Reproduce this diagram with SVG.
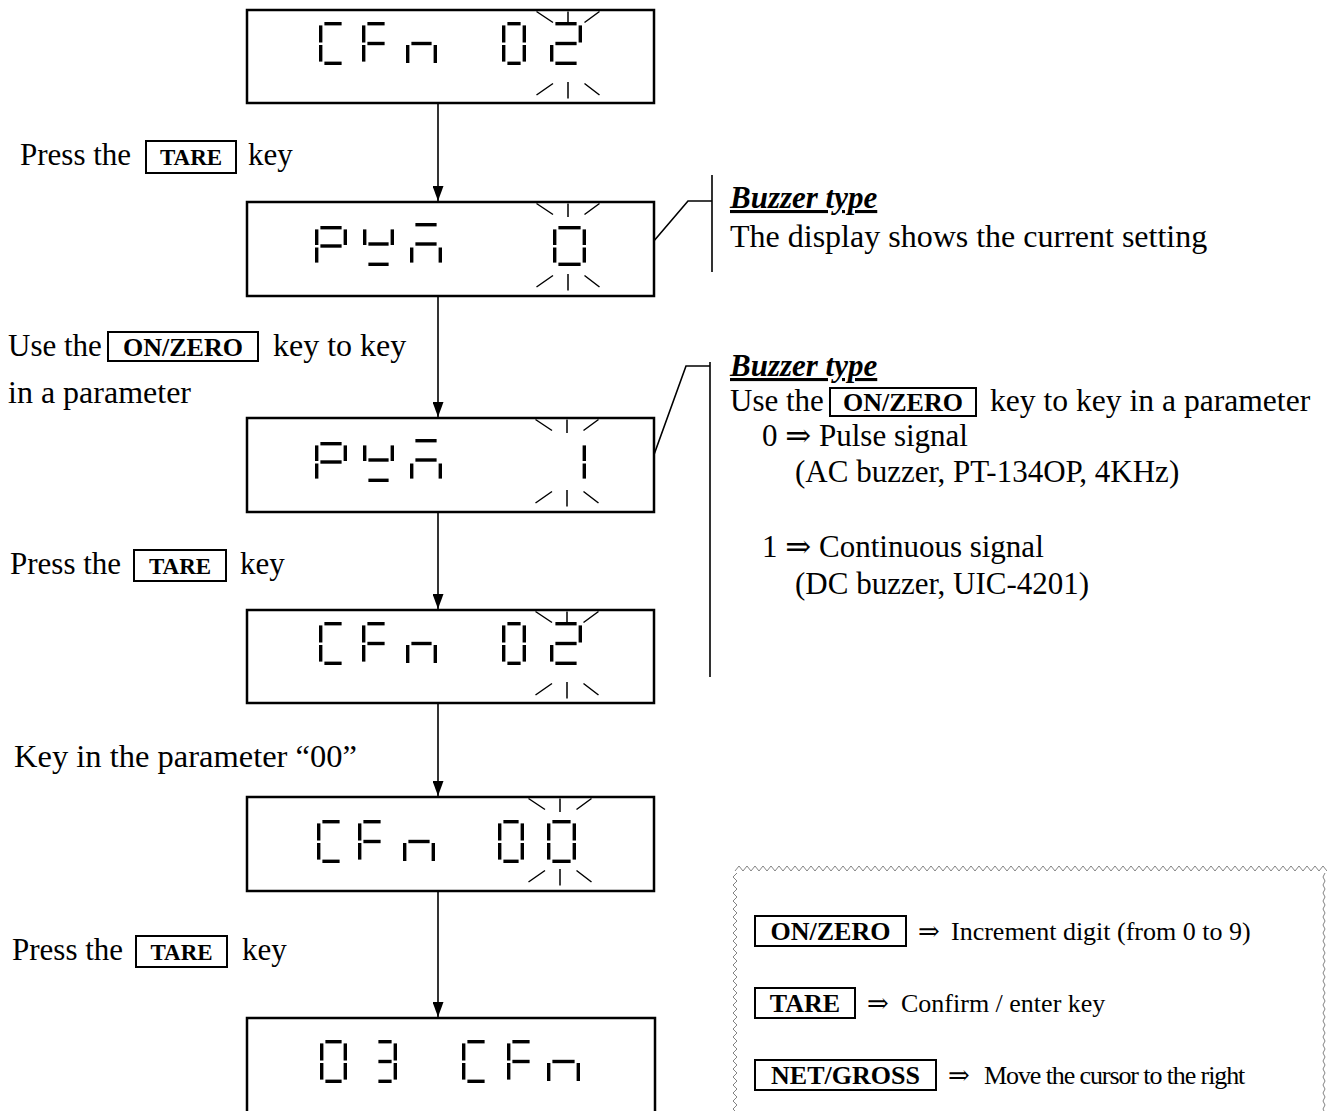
<svg xmlns="http://www.w3.org/2000/svg" xmlns:xlink="http://www.w3.org/1999/xlink" width="1327" height="1111" viewBox="0 0 1327 1111">
<style>
.box{fill:#fff;stroke:#000;stroke-width:2.5}
.key{fill:none;stroke:#000;stroke-width:2}
.t{font-family:"Liberation Serif","DejaVu Serif",serif;font-size:31px;fill:#000}
.lg{font-family:"Liberation Serif","DejaVu Serif",serif;font-size:26px;fill:#000}
.k{font-family:"Liberation Serif","DejaVu Serif",serif;font-weight:bold;font-size:23px;fill:#000;text-anchor:middle}
.k2{font-family:"Liberation Serif","DejaVu Serif",serif;font-weight:bold;font-size:26px;fill:#000;text-anchor:middle}
.bt{font-family:"Liberation Serif","DejaVu Serif",serif;font-weight:bold;font-style:italic;font-size:31px;fill:#000;text-decoration:underline}
.conn{fill:none;stroke:#000;stroke-width:1.6}
.br{fill:none;stroke:#000;stroke-width:1.6}
.bl{fill:none;stroke:#000;stroke-width:1.5}
.zz{fill:none;stroke:#777;stroke-width:0.9}
</style>
<defs>
<marker id="ah" viewBox="0 0 11 15" refX="5.5" refY="15" markerWidth="11" markerHeight="15" markerUnits="userSpaceOnUse" orient="0">
<path d="M0,0 L11,0 L5.5,15 z" fill="#000"/>
</marker>
<g id="blink" class="bl">
<path d="M0,1.5 V15 M-31.5,1.5 L-15,12.5 M16.5,12.5 L31.5,1.5"/>
<path d="M0,72 V88.5 M-31.5,85 L-15,73.5 M16.5,73.5 L31.5,85"/>
</g>
<g id="cfn02">
<g transform="translate(319,22)"><rect x="5.4" y="0" width="17.2" height="3.4"/><rect x="0" y="3.4" width="3.4" height="17.1"/><rect x="0" y="23" width="3.4" height="16.6"/><rect x="5.4" y="39.6" width="17.2" height="3.4"/></g>
<g transform="translate(362,22)"><rect x="5.4" y="0" width="17.2" height="3.4"/><rect x="0" y="3.4" width="3.4" height="17.1"/><rect x="0" y="23" width="3.4" height="16.6"/><rect x="5.4" y="19.8" width="17.2" height="3.4"/></g>
<g transform="translate(406,22)"><rect x="5.4" y="19.8" width="20.2" height="3.4"/><rect x="0" y="23" width="3.4" height="18"/><rect x="27.6" y="23" width="3.4" height="18"/></g>
<g transform="translate(502,22)"><rect x="5.4" y="0" width="13.2" height="3.4"/><rect x="0" y="3.4" width="3.4" height="17.1"/><rect x="20.6" y="3.4" width="3.4" height="17.1"/><rect x="0" y="23" width="3.4" height="16.6"/><rect x="20.6" y="23" width="3.4" height="16.6"/><rect x="5.4" y="39.6" width="13.2" height="3.4"/></g>
<g transform="translate(550,22)"><rect x="5.4" y="0" width="21.2" height="3.4"/><rect x="28.6" y="3.4" width="3.4" height="17.1"/><rect x="5.4" y="19.8" width="21.2" height="3.4"/><rect x="0" y="23" width="3.4" height="16.6"/><rect x="5.4" y="39.6" width="21.2" height="3.4"/></g>
</g>
<g id="pym">
<g transform="translate(315,24)"><rect x="5.4" y="0" width="21.2" height="3.4"/><rect x="0" y="3.4" width="3.4" height="15.6"/><rect x="28.6" y="3.4" width="3.4" height="15.6"/><rect x="5.4" y="18.3" width="21.2" height="3.4"/><rect x="0" y="21.5" width="3.4" height="15.1"/></g>
<g transform="translate(363,24)"><rect x="0" y="3.4" width="3.4" height="15.6"/><rect x="27.6" y="3.4" width="3.4" height="15.6"/><rect x="5.4" y="16.3" width="20.2" height="3.4"/><rect x="5.4" y="36.6" width="20.2" height="3.4"/></g>
<g transform="translate(410,24)"><rect x="5.4" y="-3" width="21.2" height="3.4"/><rect x="5.4" y="16.3" width="21.2" height="3.4"/><rect x="0" y="21.5" width="3.4" height="15.1"/><rect x="28.6" y="21.5" width="3.4" height="15.1"/></g>
</g>
</defs>

<g id="connectors">
<path class="conn" d="M438,103 V201" marker-end="url(#ah)"/>
<path class="conn" d="M438,296 V417" marker-end="url(#ah)"/>
<path class="conn" d="M438,512 V609" marker-end="url(#ah)"/>
<path class="conn" d="M438,703 V796" marker-end="url(#ah)"/>
<path class="conn" d="M438,891 V1017" marker-end="url(#ah)"/>
<path class="br" d="M712,175 V272 M653,242 L688,201 H712"/>
<path class="br" d="M710,362 V677 M651,463 L686,366 H710"/>
</g>

<g id="display1">
<rect class="box" x="247" y="10" width="407" height="93"/>
<use xlink:href="#cfn02" x="0" y="0"/>
<use xlink:href="#blink" x="568" y="10"/>
</g>

<g id="display2">
<rect class="box" x="247" y="202" width="407" height="94"/>
<use xlink:href="#pym" x="0" y="202"/>
<g transform="translate(553,226)"><rect x="5.4" y="0" width="22.2" height="3.4"/><rect x="0" y="3.4" width="3.4" height="15.6"/><rect x="29.6" y="3.4" width="3.4" height="15.6"/><rect x="0" y="21.5" width="3.4" height="15.1"/><rect x="29.6" y="21.5" width="3.4" height="15.1"/><rect x="5.4" y="36.6" width="22.2" height="3.4"/></g>
<use xlink:href="#blink" x="568" y="202"/>
</g>

<g id="display3">
<rect class="box" x="247" y="418" width="407" height="94"/>
<use xlink:href="#pym" x="0" y="418"/>
<g transform="translate(553,442)"><rect x="29.6" y="3.4" width="3.4" height="15.6"/><rect x="29.6" y="21.5" width="3.4" height="15.1"/></g>
<use xlink:href="#blink" x="567" y="418"/>
</g>

<g id="display4">
<rect class="box" x="247" y="610" width="407" height="93"/>
<use xlink:href="#cfn02" x="0" y="600"/>
<use xlink:href="#blink" x="567" y="610"/>
</g>

<g id="display5">
<rect class="box" x="247" y="797" width="407" height="94"/>
<g transform="translate(317,820)"><rect x="5.4" y="0" width="17.2" height="3.4"/><rect x="0" y="3.4" width="3.4" height="17.1"/><rect x="0" y="23" width="3.4" height="16.6"/><rect x="5.4" y="39.6" width="17.2" height="3.4"/></g>
<g transform="translate(358,820)"><rect x="5.4" y="0" width="17.2" height="3.4"/><rect x="0" y="3.4" width="3.4" height="17.1"/><rect x="0" y="23" width="3.4" height="16.6"/><rect x="5.4" y="19.8" width="17.2" height="3.4"/></g>
<g transform="translate(403,820)"><rect x="5.4" y="19.8" width="21.2" height="3.4"/><rect x="0" y="23" width="3.4" height="18"/><rect x="28.6" y="23" width="3.4" height="18"/></g>
<g transform="translate(498,820)"><rect x="5.4" y="0" width="15.2" height="3.4"/><rect x="0" y="3.4" width="3.4" height="17.1"/><rect x="22.6" y="3.4" width="3.4" height="17.1"/><rect x="0" y="23" width="3.4" height="16.6"/><rect x="22.6" y="23" width="3.4" height="16.6"/><rect x="5.4" y="39.6" width="15.2" height="3.4"/></g>
<g transform="translate(547,820)"><rect x="5.4" y="0" width="18.2" height="3.4"/><rect x="0" y="3.4" width="3.4" height="17.1"/><rect x="25.6" y="3.4" width="3.4" height="17.1"/><rect x="0" y="23" width="3.4" height="16.6"/><rect x="25.6" y="23" width="3.4" height="16.6"/><rect x="5.4" y="39.6" width="18.2" height="3.4"/></g>
<use xlink:href="#blink" x="560" y="797"/>
</g>

<g id="display6">
<rect class="box" x="247" y="1018" width="408" height="110"/>
<g transform="translate(320,1040)"><rect x="5.4" y="0" width="16.2" height="3.4"/><rect x="0" y="3.4" width="3.4" height="17.1"/><rect x="23.6" y="3.4" width="3.4" height="17.1"/><rect x="0" y="23" width="3.4" height="16.6"/><rect x="23.6" y="23" width="3.4" height="16.6"/><rect x="5.4" y="39.6" width="16.2" height="3.4"/></g>
<g transform="translate(373,1040)"><rect x="5.4" y="0" width="13.2" height="3.4"/><rect x="20.6" y="3.4" width="3.4" height="17.1"/><rect x="5.4" y="19.8" width="13.2" height="3.4"/><rect x="20.6" y="23" width="3.4" height="16.6"/><rect x="5.4" y="39.6" width="13.2" height="3.4"/></g>
<g transform="translate(462,1040)"><rect x="5.4" y="0" width="17.2" height="3.4"/><rect x="0" y="3.4" width="3.4" height="17.1"/><rect x="0" y="23" width="3.4" height="16.6"/><rect x="5.4" y="39.6" width="17.2" height="3.4"/></g>
<g transform="translate(507,1040)"><rect x="5.4" y="0" width="17.2" height="3.4"/><rect x="0" y="3.4" width="3.4" height="17.1"/><rect x="0" y="23" width="3.4" height="16.6"/><rect x="5.4" y="19.8" width="17.2" height="3.4"/></g>
<g transform="translate(547,1040)"><rect x="5.4" y="19.8" width="22.2" height="3.4"/><rect x="0" y="23" width="3.4" height="18"/><rect x="29.6" y="23" width="3.4" height="18"/></g>
</g>

<g id="label1">
<text class="t" x="20" y="165">Press the</text>
<rect class="key" x="146" y="141" width="90" height="32"/>
<text class="k" x="191" y="165">TARE</text>
<text class="t" x="248" y="165">key</text>
</g>

<g id="label2">
<text class="t" x="8" y="356">Use the</text>
<rect class="key" x="108" y="332" width="150" height="29"/>
<text class="k2" x="183" y="356">ON/ZERO</text>
<text class="t" x="273" y="356" style="font-size:32px">key to key</text>
<text class="t" x="8" y="403" style="font-size:32px">in a parameter</text>
</g>

<g id="label3">
<text class="t" x="10" y="574">Press the</text>
<rect class="key" x="134" y="550" width="92" height="31"/>
<text class="k" x="180" y="574">TARE</text>
<text class="t" x="240" y="574">key</text>
</g>

<g id="label4">
<text class="t" x="14" y="767" style="font-size:32.5px">Key in the parameter “00”</text>
</g>

<g id="label5">
<text class="t" x="12" y="960">Press the</text>
<rect class="key" x="136" y="936" width="91" height="31"/>
<text class="k" x="181.5" y="960">TARE</text>
<text class="t" x="242" y="960">key</text>
</g>

<g id="note1">
<text class="bt" x="730" y="208">Buzzer type</text>
<text class="t" x="730" y="247" style="font-size:32px">The display shows the current setting</text>
</g>

<g id="note2">
<text class="bt" x="730" y="376">Buzzer type</text>
<text class="t" x="730" y="411">Use the</text>
<rect class="key" x="830" y="388" width="146" height="28"/>
<text class="k2" x="903" y="411">ON/ZERO</text>
<text class="t" x="990" y="411" style="font-size:31.6px">key to key in a parameter</text>
<text class="t" x="762" y="446">0 ⇒ Pulse signal</text>
<text class="t" x="795" y="482">(AC buzzer, PT-134OP, 4KHz)</text>
<text class="t" x="762" y="557">1 ⇒ Continuous signal</text>
<text class="t" x="795" y="594">(DC buzzer, UIC-4201)</text>
</g>

<g id="legend">
<path class="zz" d="M735,871 l4,-5 l4,5 l4,-5 l4,5 l4,-5 l4,5 l4,-5 l4,5 l4,-5 l4,5 l4,-5 l4,5 l4,-5 l4,5 l4,-5 l4,5 l4,-5 l4,5 l4,-5 l4,5 l4,-5 l4,5 l4,-5 l4,5 l4,-5 l4,5 l4,-5 l4,5 l4,-5 l4,5 l4,-5 l4,5 l4,-5 l4,5 l4,-5 l4,5 l4,-5 l4,5 l4,-5 l4,5 l4,-5 l4,5 l4,-5 l4,5 l4,-5 l4,5 l4,-5 l4,5 l4,-5 l4,5 l4,-5 l4,5 l4,-5 l4,5 l4,-5 l4,5 l4,-5 l4,5 l4,-5 l4,5 l4,-5 l4,5 l4,-5 l4,5 l4,-5 l4,5 l4,-5 l4,5 l4,-5 l4,5 l4,-5 l4,5 l4,-5 l4,5 l4,-5 l4,5 l4,-5 l4,5 l4,-5 l4,5 l4,-5 l4,5 l4,-5 l4,5 l4,-5 l4,5 l4,-5 l4,5 l4,-5 l4,5 l4,-5 l4,5 l4,-5 l4,5 l4,-5 l4,5 l4,-5 l4,5 l4,-5 l4,5 l4,-5 l4,5 l4,-5 l4,5 l4,-5 l4,5 l4,-5 l4,5 l4,-5 l4,5 l4,-5 l4,5 l4,-5 l4,5 l4,-5 l4,5 l4,-5 l4,5 l4,-5 l4,5 l4,-5 l4,5 l4,-5 l4,5 l4,-5 l4,5 l4,-5 l4,5 l4,-5 l4,5 l4,-5 l4,5 l4,-5 l4,5 l4,-5 l4,5 l4,-5 l4,5 l4,-5 l4,5 l4,-5 l4,5 l4,-5 l4,5 l4,-5 l4,5 l4,-5 l4,5 l4,-5 l4,5"/>
<path class="zz" d="M737,873 l-4,4 l4,4 l-4,4 l4,4 l-4,4 l4,4 l-4,4 l4,4 l-4,4 l4,4 l-4,4 l4,4 l-4,4 l4,4 l-4,4 l4,4 l-4,4 l4,4 l-4,4 l4,4 l-4,4 l4,4 l-4,4 l4,4 l-4,4 l4,4 l-4,4 l4,4 l-4,4 l4,4 l-4,4 l4,4 l-4,4 l4,4 l-4,4 l4,4 l-4,4 l4,4 l-4,4 l4,4 l-4,4 l4,4 l-4,4 l4,4 l-4,4 l4,4 l-4,4 l4,4 l-4,4 l4,4 l-4,4 l4,4 l-4,4 l4,4 l-4,4 l4,4 l-4,4 l4,4 l-4,4 l4,4 l-4,4 l4,4 l-4,4"/>
<path class="zz" d="M1325,873 l-2,4 l2,4 l-2,4 l2,4 l-2,4 l2,4 l-2,4 l2,4 l-2,4 l2,4 l-2,4 l2,4 l-2,4 l2,4 l-2,4 l2,4 l-2,4 l2,4 l-2,4 l2,4 l-2,4 l2,4 l-2,4 l2,4 l-2,4 l2,4 l-2,4 l2,4 l-2,4 l2,4 l-2,4 l2,4 l-2,4 l2,4 l-2,4 l2,4 l-2,4 l2,4 l-2,4 l2,4 l-2,4 l2,4 l-2,4 l2,4 l-2,4 l2,4 l-2,4 l2,4 l-2,4 l2,4 l-2,4 l2,4 l-2,4 l2,4 l-2,4 l2,4 l-2,4 l2,4 l-2,4 l2,4 l-2,4 l2,4 l-2,4 l2,4"/>
<rect class="key" x="755" y="916" width="151" height="30"/>
<text class="k2" x="830.5" y="940">ON/ZERO</text>
<text class="lg" x="918" y="940">⇒<tspan x="951">Increment digit (from 0 to 9)</tspan></text>
<rect class="key" x="755" y="988" width="100" height="30"/>
<text class="k2" x="805" y="1012">TARE</text>
<text class="lg" x="867" y="1012">⇒<tspan x="901">Confirm / enter key</tspan></text>
<rect class="key" x="755" y="1060" width="181" height="30"/>
<text class="k2" x="845.5" y="1084">NET/GROSS</text>
<text class="lg" x="948" y="1084">⇒<tspan x="984" letter-spacing="-1.1">Move the cursor to the right</tspan></text>
</g>
</svg>
